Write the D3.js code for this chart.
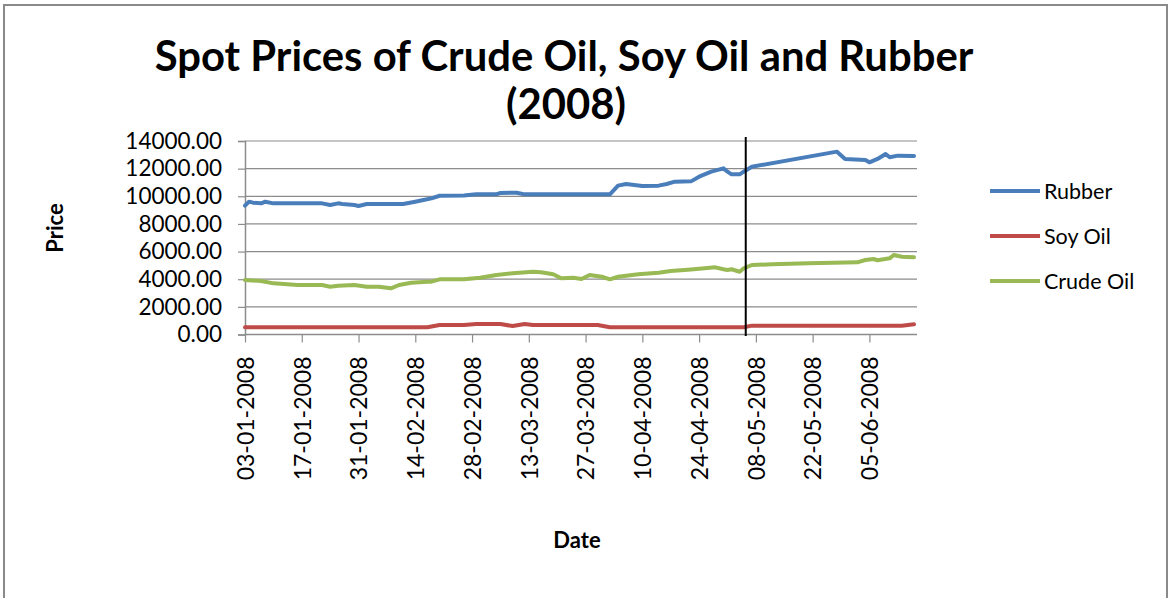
<!DOCTYPE html>
<html>
<head>
<meta charset="utf-8">
<script src="https://cdn.jsdelivr.net/npm/d3@7"></script>
<style>
  html, body { margin: 0; padding: 0; background: #fff; }
  svg { display: block; }
  text { font-family: Lato, "Open Sans", sans-serif; fill: #000; }
</style>
</head>
<body>
<svg id="chart" width="1172" height="598"></svg>
<script>
// ---------- DATA ----------
const titleLines = ["Spot Prices of Crude Oil, Soy Oil and Rubber", "(2008)"];
const xTickLabels = ["03-01-2008","17-01-2008","31-01-2008","14-02-2008","28-02-2008","13-03-2008",
                     "27-03-2008","10-04-2008","24-04-2008","08-05-2008","22-05-2008","05-06-2008"];
const yTickValues = [0, 2000, 4000, 6000, 8000, 10000, 12000, 14000];
const seriesNames = ["Rubber", "Soy Oil", "Crude Oil"];
const seriesColors = ["#4A7EBB", "#BE4B48", "#98B954"];

const rubber = [
  ["03-01-2008",9320],["04-01-2008",9610],["05-01-2008",9540],["07-01-2008",9490],["08-01-2008",9610],
  ["10-01-2008",9490],["22-01-2008",9490],["24-01-2008",9370],["26-01-2008",9490],["27-01-2008",9440],
  ["30-01-2008",9370],["31-01-2008",9300],["02-02-2008",9440],["11-02-2008",9440],["14-02-2008",9610],
  ["16-02-2008",9730],["18-02-2008",9850],["20-02-2008",10040],["26-02-2008",10060],["29-02-2008",10140],
  ["05-03-2008",10140],["06-03-2008",10240],["10-03-2008",10260],["12-03-2008",10140],["02-04-2008",10140],
  ["04-04-2008",10770],["06-04-2008",10890],["08-04-2008",10820],["10-04-2008",10750],["14-04-2008",10770],
  ["16-04-2008",10890],["18-04-2008",11060],["22-04-2008",11080],["24-04-2008",11420],["27-04-2008",11780],
  ["30-04-2008",12020],["01-05-2008",11780],["02-05-2008",11590],["04-05-2008",11590],["05-05-2008",11780],
  ["07-05-2008",12140],["28-05-2008",13230],["30-05-2008",12700],["04-06-2008",12630],["05-06-2008",12460],
  ["07-06-2008",12700],["09-06-2008",13060],["10-06-2008",12820],["12-06-2008",12940],["16-06-2008",12920]
];
const soyOil = [
  ["03-01-2008",520],["17-02-2008",520],["20-02-2008",690],["26-02-2008",690],["29-02-2008",760],
  ["06-03-2008",760],["09-03-2008",610],["12-03-2008",760],["14-03-2008",690],["30-03-2008",690],
  ["02-04-2008",520],["05-05-2008",520],["07-05-2008",640],["13-06-2008",640],["16-06-2008",740]
];
const crudeOil = [
  ["03-01-2008",3940],["07-01-2008",3870],["10-01-2008",3700],["16-01-2008",3580],["22-01-2008",3580],
  ["24-01-2008",3460],["26-01-2008",3530],["30-01-2008",3580],["02-02-2008",3460],["05-02-2008",3460],
  ["08-02-2008",3340],["10-02-2008",3580],["13-02-2008",3750],["17-02-2008",3820],["18-02-2008",3820],
  ["20-02-2008",3990],["26-02-2008",4000],["01-03-2008",4110],["05-03-2008",4310],["09-03-2008",4430],
  ["14-03-2008",4540],["16-03-2008",4500],["19-03-2008",4360],["21-03-2008",4070],["24-03-2008",4110],
  ["26-03-2008",4020],["28-03-2008",4310],["31-03-2008",4180],["02-04-2008",3990],["04-04-2008",4180],
  ["09-04-2008",4360],["14-04-2008",4470],["17-04-2008",4590],["22-04-2008",4700],["28-04-2008",4860],
  ["30-04-2008",4720],["01-05-2008",4670],["02-05-2008",4720],["04-05-2008",4540],["05-05-2008",4790],
  ["07-05-2008",5030],["12-05-2008",5080],["21-05-2008",5150],["02-06-2008",5220],["04-06-2008",5390],
  ["06-06-2008",5460],["07-06-2008",5370],["10-06-2008",5510],["11-06-2008",5750],["13-06-2008",5630],
  ["16-06-2008",5590]
];
const markerDate = "05-05-2008";
const xDomain = ["03-01-2008", "16-06-2008"];

// ---------- CHART ----------
const parse = d3.timeParse("%d-%m-%Y");
const svg = d3.select("#chart");

// outer chart frame
svg.append("rect").attr("x", 4).attr("y", 5).attr("width", 1163).attr("height", 640)
  .attr("fill", "#fff").attr("stroke", "#8a8a8a").attr("stroke-width", 2);

const plot = { left: 245, right: 914, top: 141, bottom: 334.5, gridRight: 917 };

const x = d3.scaleTime().domain(xDomain.map(parse)).range([plot.left, plot.right]);
const y = d3.scaleLinear().domain([0, 14000]).range([plot.bottom, plot.top]);

// gridlines
svg.append("g").selectAll("line").data(yTickValues.filter(v => v > 0)).join("line")
  .attr("x1", plot.left).attr("x2", plot.gridRight)
  .attr("y1", d => y(d)).attr("y2", d => y(d))
  .attr("stroke", "#8c8c8c").attr("stroke-width", 1.2);

// y axis
const yAxis = svg.append("g").attr("transform", `translate(${plot.left},0)`)
  .call(d3.axisLeft(y).tickValues(yTickValues).tickFormat(d3.format(".2f")).tickSize(7).tickPadding(16));
yAxis.select(".domain").attr("stroke", "#8c8c8c").attr("stroke-width", 1.5);
yAxis.selectAll(".tick line").attr("stroke", "#8c8c8c").attr("stroke-width", 1.2);
yAxis.selectAll(".tick text").attr("font-family", "Lato").attr("font-size", 22.5).attr("fill", "#000");

// x axis
const xTicks = xTickLabels.map(parse);
const xAxis = svg.append("g").attr("transform", `translate(0,${plot.bottom})`)
  .call(d3.axisBottom(x).tickValues(xTicks).tickFormat(d3.timeFormat("%d-%m-%Y")).tickSize(8).tickSizeOuter(0));
xAxis.select(".domain").attr("d", `M${plot.left},0H${plot.gridRight}`).attr("stroke", "#8c8c8c").attr("stroke-width", 1.5);
xAxis.selectAll(".tick line").attr("stroke", "#8c8c8c").attr("stroke-width", 1.2);
xAxis.selectAll(".tick text")
  .attr("font-family", "Lato").attr("font-size", 23).attr("fill", "#000")
  .attr("text-anchor", "end")
  .attr("transform", "rotate(-90)")
  .attr("x", -22).attr("y", 0).attr("dy", "0.36em");

// series
const line = d3.line().x(d => x(parse(d[0]))).y(d => y(d[1]));
const allSeries = [rubber, soyOil, crudeOil];
allSeries.forEach((s, i) => {
  svg.append("path").datum(s).attr("d", line)
    .attr("fill", "none").attr("stroke", seriesColors[i]).attr("stroke-width", 4)
    .attr("stroke-linejoin", "round").attr("stroke-linecap", "round");
});

// vertical marker line
const mx = x(d3.timeHour.offset(parse(markerDate), 12));
svg.append("line").attr("x1", mx).attr("x2", mx).attr("y1", plot.top - 4).attr("y2", plot.bottom + 1.5)
  .attr("stroke", "#000").attr("stroke-width", 2);

// title
svg.append("text").attr("x", 564).attr("y", 71).attr("text-anchor", "middle")
  .attr("font-weight", "bold").attr("font-size", 41.8).text(titleLines[0]);
svg.append("text").attr("x", 566).attr("y", 119).attr("text-anchor", "middle")
  .attr("font-weight", "bold").attr("font-size", 41.8).text(titleLines[1]);

// axis titles
svg.append("text").attr("transform", "translate(63,228) rotate(-90)").attr("text-anchor", "middle")
  .attr("font-weight", "bold").attr("font-size", 22).text("Price");
svg.append("text").attr("x", 577).attr("y", 548).attr("text-anchor", "middle")
  .attr("font-weight", "bold").attr("font-size", 22).text("Date");

// legend
const legendY = [191, 236, 281];
const lg = svg.append("g");
seriesNames.forEach((name, i) => {
  lg.append("line").attr("x1", 990).attr("x2", 1040).attr("y1", legendY[i]).attr("y2", legendY[i])
    .attr("stroke", seriesColors[i]).attr("stroke-width", 4);
  lg.append("text").attr("x", 1044).attr("y", legendY[i]).attr("dy", "0.36em")
    .attr("font-size", 21.5).text(name);
});
</script>
</body>
</html>
